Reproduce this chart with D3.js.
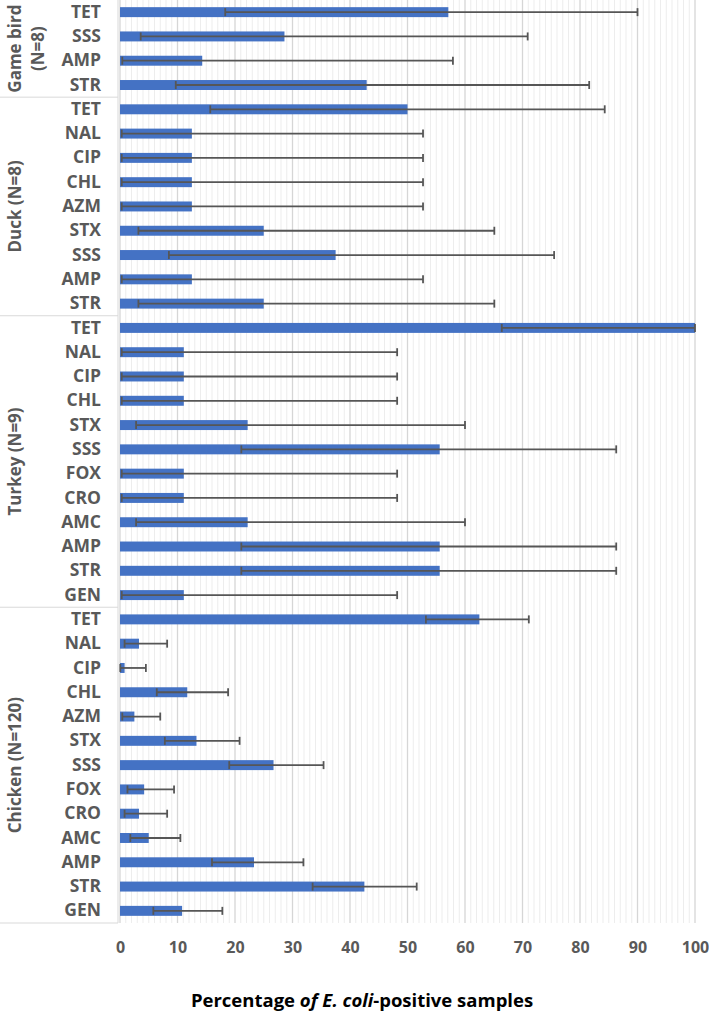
<!DOCTYPE html>
<html>
<head>
<meta charset="utf-8">
<script src="https://cdn.jsdelivr.net/npm/d3@7"></script>
<style>
  html, body { margin: 0; padding: 0; background: #fff; }
  svg { display: block; }
  text { font-family: "Open Sans", "DejaVu Sans", sans-serif; font-weight: bold; }
</style>
</head>
<body>
<script>
// ---- Data ----
const groupNames = ["Game bird", "Duck", "Turkey", "Chicken"];
const groupN = ["(N=8)", "(N=8)", "(N=9)", "(N=120)"];

const gameBirdDrugs = ["TET", "SSS", "AMP", "STR"];
const gameBirdPct   = [57.1, 28.6, 14.3, 42.9];
const gameBirdLow   = [18.3, 3.6, 0.4, 9.7];
const gameBirdHigh  = [90.0, 70.9, 57.9, 81.6];

const duckDrugs = ["TET", "NAL", "CIP", "CHL", "AZM", "STX", "SSS", "AMP", "STR"];
const duckPct   = [50, 12.5, 12.5, 12.5, 12.5, 25, 37.5, 12.5, 25];
const duckLow   = [15.7, 0.3, 0.3, 0.3, 0.3, 3.2, 8.5, 0.3, 3.2];
const duckHigh  = [84.3, 52.7, 52.7, 52.7, 52.7, 65.1, 75.5, 52.7, 65.1];

const turkeyDrugs = ["TET", "NAL", "CIP", "CHL", "STX", "SSS", "FOX", "CRO", "AMC", "AMP", "STR", "GEN"];
const turkeyPct   = [100, 11.1, 11.1, 11.1, 22.2, 55.6, 11.1, 11.1, 22.2, 55.6, 55.6, 11.1];
const turkeyLow   = [66.4, 0.3, 0.3, 0.3, 2.8, 21.1, 0.3, 0.3, 2.8, 21.1, 21.1, 0.3];
const turkeyHigh  = [100, 48.2, 48.2, 48.2, 60.0, 86.3, 48.2, 48.2, 60.0, 86.3, 86.3, 48.2];

const chickenDrugs = ["TET", "NAL", "CIP", "CHL", "AZM", "STX", "SSS", "FOX", "CRO", "AMC", "AMP", "STR", "GEN"];
const chickenPct   = [62.5, 3.3, 0.8, 11.7, 2.5, 13.3, 26.7, 4.2, 3.3, 5.0, 23.3, 42.5, 10.8];
const chickenLow   = [53.2, 0.8, 0.05, 6.4, 0.4, 7.8, 19.0, 1.3, 0.8, 1.8, 16.0, 33.5, 5.8];
const chickenHigh  = [71.1, 8.2, 4.5, 18.8, 7.0, 20.8, 35.4, 9.4, 8.2, 10.5, 31.9, 51.6, 17.8];

const xTicks = [0, 10, 20, 30, 40, 50, 60, 70, 80, 90, 100];
const xTitleParts = [["Percentage ", "normal"], ["of E. coli", "italic"], ["-positive samples", "normal"]];

// ---- Build rows ----
const groupData = [
  [gameBirdDrugs, gameBirdPct, gameBirdLow, gameBirdHigh],
  [duckDrugs, duckPct, duckLow, duckHigh],
  [turkeyDrugs, turkeyPct, turkeyLow, turkeyHigh],
  [chickenDrugs, chickenPct, chickenLow, chickenHigh]
];
const rows = [];
const groupSpans = [];
groupData.forEach((g, gi) => {
  const start = rows.length;
  g[0].forEach((d, i) => {
    rows.push({ id: gi + "-" + i, drug: d, pct: g[1][i], low: g[2][i], high: g[3][i], group: gi });
  });
  groupSpans.push({ gi, start, end: rows.length - 1 });
});

// ---- Layout ----
const W = 709, H = 1012;
const plotLeft = 120, plotRight = 695, plotTop = 0, plotBottom = 923;
const axisLineX = 118;

const svg = d3.select("body").append("svg").attr("width", W).attr("height", H);

const x = d3.scaleLinear().domain([0, 100]).range([plotLeft, plotRight]);
const y = d3.scaleBand().domain(rows.map(r => r.id)).range([plotTop, plotBottom])
  .paddingInner(0.59).paddingOuter(0.295);
const step = y.step();

// minor gridlines
const minor = d3.range(0, 101, 1).filter(v => v % 10 !== 0);
svg.append("g").selectAll("line").data(minor).join("line")
  .attr("x1", d => x(d)).attr("x2", d => x(d))
  .attr("y1", plotTop).attr("y2", plotBottom)
  .attr("stroke", "#e8e8e8").attr("stroke-width", 0.8);

// major gridlines
svg.append("g").selectAll("line").data(xTicks).join("line")
  .attr("x1", d => x(d)).attr("x2", d => x(d))
  .attr("y1", plotTop).attr("y2", plotBottom)
  .attr("stroke", "#d6d6d6").attr("stroke-width", 1.3);

// category axis box lines
svg.append("line").attr("x1", axisLineX).attr("x2", axisLineX)
  .attr("y1", plotTop).attr("y2", plotBottom)
  .attr("stroke", "#d9d9d9").attr("stroke-width", 1);
svg.append("g").selectAll("line").data(groupSpans).join("line")
  .attr("x1", 0).attr("x2", axisLineX)
  .attr("y1", s => y(rows[s.end].id) + y.bandwidth() / 2 + step / 2)
  .attr("y2", s => y(rows[s.end].id) + y.bandwidth() / 2 + step / 2)
  .attr("stroke", "#d9d9d9").attr("stroke-width", 1);

// bars
svg.append("g").selectAll("rect").data(rows).join("rect")
  .attr("x", x(0)).attr("y", d => y(d.id))
  .attr("width", d => x(d.pct) - x(0))
  .attr("height", y.bandwidth())
  .attr("fill", "#4472C4");

// error bars
const eg = svg.append("g").attr("stroke", "#565656").attr("stroke-width", 1.8);
const cy = d => y(d.id) + y.bandwidth() / 2;
eg.selectAll("line.h").data(rows).join("line").attr("class", "h")
  .attr("x1", d => x(d.low)).attr("x2", d => x(d.high))
  .attr("y1", cy).attr("y2", cy);
eg.selectAll("line.cl").data(rows).join("line").attr("class", "cl")
  .attr("x1", d => x(d.low)).attr("x2", d => x(d.low))
  .attr("y1", d => cy(d) - 4).attr("y2", d => cy(d) + 4);
eg.selectAll("line.ch").data(rows).join("line").attr("class", "ch")
  .attr("x1", d => x(d.high)).attr("x2", d => x(d.high))
  .attr("y1", d => cy(d) - 4).attr("y2", d => cy(d) + 4);

// category labels via axis
const yAxis = d3.axisLeft(y).tickSize(0).tickPadding(17)
  .tickFormat(id => rows.find(r => r.id === id).drug);
const yg = svg.append("g").attr("transform", `translate(${axisLineX},0)`).call(yAxis);
yg.select(".domain").remove();
yg.selectAll("text").attr("fill", "#595959").style("font-size", "17.5px")
  .style("font-family", '"Open Sans", sans-serif').style("font-weight", "bold");

// group labels
groupSpans.forEach(s => {
  const top = y(rows[s.start].id) - (step - y.bandwidth()) / 2;
  const bot = y(rows[s.end].id) + y.bandwidth() + (step - y.bandwidth()) / 2;
  const mid = (top + bot) / 2;
  if (s.gi === 0) {
    [[groupNames[0], 14], [groupN[0], 37]].forEach(([t, gx]) => {
      svg.append("text").attr("transform", `translate(${gx},${mid}) rotate(-90)`)
        .attr("text-anchor", "middle").attr("dominant-baseline", "central")
        .attr("fill", "#595959").style("font-size", "17px").text(t);
    });
  } else {
    svg.append("text").attr("transform", `translate(14,${mid}) rotate(-90)`)
      .attr("text-anchor", "middle").attr("dominant-baseline", "central")
      .attr("fill", "#595959").style("font-size", "17px")
      .text(groupNames[s.gi] + " " + groupN[s.gi]);
  }
});

// x axis
const xAxis = d3.axisBottom(x).tickValues(xTicks).tickSize(0).tickPadding(0).tickFormat(d3.format("d"));
const xg = svg.append("g").attr("transform", `translate(0,${plotBottom})`).call(xAxis);
xg.select(".domain").remove();
xg.selectAll("text").attr("fill", "#595959").attr("dy", null).attr("y", 30)
  .style("font-size", "16px").style("font-family", '"Open Sans", sans-serif').style("font-weight", "bold");

// x title
const tt = svg.append("text").attr("x", 362).attr("y", 1007).attr("text-anchor", "middle")
  .attr("fill", "#000").style("font-size", "18.5px");
xTitleParts.forEach(([t, st]) => tt.append("tspan").style("font-style", st).text(t));
</script>
</body>
</html>
